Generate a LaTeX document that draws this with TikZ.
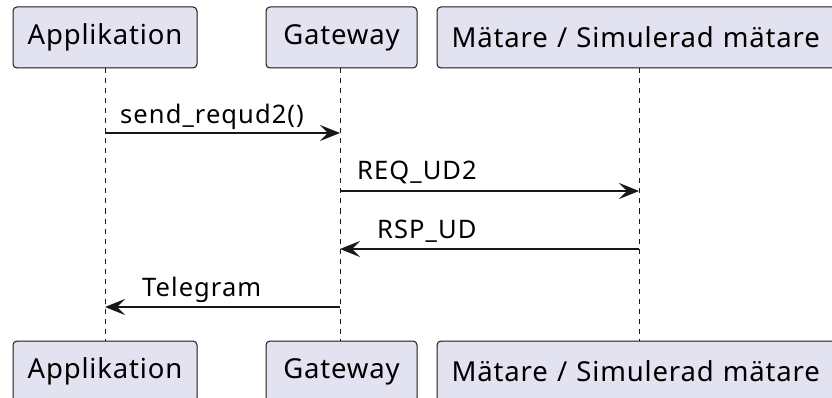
\documentclass[tikz,border=0pt]{standalone}
\usepackage{fontspec}
\usetikzlibrary{arrows.meta}
\newfontfamily\partfont[LetterSpace=3, WordSpace=1.25]{Noto Sans}
\newfontfamily\msgfont[LetterSpace=4.2]{Noto Sans}
\definecolor{partfill}{HTML}{E2E2F0}
\definecolor{umlline}{HTML}{181818}
\tikzset{
  participant/.style={draw=umlline, fill=partfill, rounded corners=4pt, line width=1pt,
    minimum height=61pt, inner sep=0pt, text=black, font=\partfont\fontsize{27.5}{33}\selectfont},
  lifeline/.style={umlline, line width=1pt, dash pattern=on 5pt off 5pt},
  msg/.style={umlline, line width=1.5pt, -{Stealth[length=20pt, width=16pt, inset=8pt]}},
  msglabel/.style={anchor=base west, inner sep=0pt, font=\msgfont\fontsize{25.5}{30}\selectfont}
}
\begin{document}
\begin{tikzpicture}[x=1pt, y=-1pt]
  \clip (0,0) rectangle (832,398);
  % participants, top and bottom
  \node[participant, minimum width=184pt] (appT) at (105,37.5) {Applikation};
  \node[participant, minimum width=151pt] (gwT) at (341.5,37.5) {Gateway};
  \node[participant, inner xsep=14.7pt, text width=374.6pt, align=left] (mtrT) at (639,37.5) {M\"atare / Simulerad m\"atare};
  \node[participant, minimum width=184pt] (appB) at (105,371.5) {Applikation};
  \node[participant, minimum width=151pt] (gwB) at (341.5,371.5) {Gateway};
  \node[participant, inner xsep=14.7pt, text width=374.6pt, align=left] (mtrB) at (639,371.5) {M\"atare / Simulerad m\"atare};
  % lifelines
  \draw[lifeline] (appT.south) -- (appB.north);
  \draw[lifeline] (gwT.south -| 340,0) -- (gwB.north -| 340,0);
  \draw[lifeline] (mtrT.south) -- (mtrB.north);
  % messages
  \draw[msg] (appT.south |- 0,133) -- (340,133);
  \node[msglabel] (m1) at (120,123.5) {send\_requd2()};
  \draw[msg] (340,191) -- (mtrT.south |- 0,191);
  \node[msglabel] (m2) at (357,180) {REQ\_UD2};
  \draw[msg] (mtrT.south |- 0,249) -- (340,249);
  \node[msglabel] (m3) at (377,238.5) {RSP\_UD};
  \draw[msg] (340,307) -- (appT.south |- 0,307);
  \node[msglabel] (m4) at (142,296) {Telegram};
\end{tikzpicture}
\end{document}
